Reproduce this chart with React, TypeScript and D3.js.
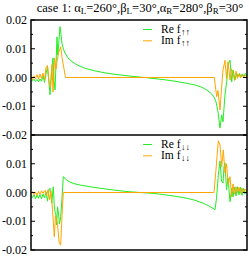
import React from 'react';
import * as d3 from 'd3';

// position along the (unlabelled) horizontal axis, arbitrary units 0..216
const reUp: [number, number][] = [
  [0, -0.0008], [1.5, -0.0012], [3, -0.0006], [4.5, -0.0014], [6, -0.0007], [7.5, -0.0015],
  [9, -0.0005], [10.5, -0.0013], [12, 0.0005], [13.5, -0.0017], [15, 0.0012], [16.5, 0.0037],
  [18, -0.002], [19, -0.006], [20.5, 0.002], [22, 0.0068], [23, -0.001], [24, -0.0043],
  [25, 0.0045], [26, 0.0141], [26.8, 0.0078], [27.8, 0.012], [29, 0.0177], [30, 0.015],
  [31, 0.0118], [32.5, 0.0098], [34, 0.0085], [37, 0.0068], [41, 0.0055], [46, 0.0044],
  [54, 0.0032], [64, 0.0023], [74, 0.0016], [84, 0.0011], [94, 0.0007], [104, 0.0003],
  [114, 0], [124, -0.0004], [134, -0.0008], [144, -0.0013], [154, -0.0019], [164, -0.0026],
  [171, -0.0034], [176, -0.0044], [180, -0.0055], [183, -0.0068], [185, -0.0085], [187, -0.0119],
  [189, -0.0176], [190.7, -0.013], [192, -0.0154], [194, -0.006], [195.7, -0.0015], [197, 0.0043],
  [199, 0.006], [200.7, -0.0015], [202, 0.0026], [204, -0.0009], [205.7, 0.0015], [207, 0.0003],
  [208.5, 0.0014], [210, 0.0002], [211.5, 0.0012], [213, 0.0004], [214.5, 0.0015], [216, 0.0006],
];

const imUp: [number, number][] = [
  [0, 0.0002], [1.5, -0.0008], [3, 0.0006], [4.5, -0.0004], [6, 0.001], [7.5, -0.0006],
  [9, 0.0012], [10.5, -0.0003], [12, 0.0015], [13.5, -0.001], [15, 0.0035], [16.5, 0.0042],
  [18, -0.0015], [19.5, -0.0035], [21, 0.0045], [22, -0.005], [23.5, 0.0068], [25, 0.003],
  [26, 0.0055], [27.5, 0.0085], [29.7, 0.0107], [31, 0.007], [32.5, 0.004], [34.5, 0],
  [183.3, 0], [185.7, -0.0067], [187, -0.0045], [189, -0.0113], [190.5, -0.004], [192, 0.0026],
  [194, 0.006], [195.5, -0.0005], [197, 0.0055], [199, -0.0009], [200.5, 0.003], [202, 0.0015],
  [203.5, -0.001], [205, 0.0022], [206.5, -0.0003], [208, 0.0012], [209.5, -0.0002], [211, 0.001],
  [212.5, -0.0001], [214, 0.0008], [216, 0.0003],
];

const reDown: [number, number][] = [
  [0, -0.001], [1.5, -0.0018], [3, -0.0008], [4.5, -0.0022], [6, -0.0009], [7.5, -0.002],
  [9, -0.0007], [10.5, -0.0022], [12, -0.0005], [13.5, -0.0019], [15, 0.0002], [16.5, -0.003],
  [18, 0.001], [19, 0.0015], [20.7, -0.0037], [22.3, 0.002], [23.5, -0.006], [25, -0.0078],
  [25.7, -0.0113], [26.5, -0.005], [27.3, -0.0067], [28.5, -0.011], [29.7, -0.0084], [31, -0.002],
  [32.3, 0.0055], [34, 0.005], [35.7, 0.0043], [39, 0.0036], [44, 0.003], [49, 0.0026],
  [59, 0.002], [69, 0.0015], [84, 0.0008], [97, 0.0003], [109, 0], [122, -0.0003],
  [134, -0.0008], [146, -0.0014], [156, -0.002], [164, -0.0027], [172, -0.0037], [178, -0.0047],
  [182, -0.0055], [184, -0.006], [185.5, -0.002], [187.3, 0.006], [189, 0.011], [190.5, 0.004],
  [192, 0.0033], [193, 0.009], [194, 0.0103], [195.5, 0.001], [197, 0.005], [199, -0.0032],
  [200.7, 0.0015], [202, -0.0015], [203.5, 0.0018], [205, -0.0012], [206.5, 0.002], [208, -0.0008],
  [209.5, 0.0018], [211, -0.001], [212.5, 0.0015], [214, -0.0005], [216, 0.001],
];

const imDown: [number, number][] = [
  [0, -0.0005], [1.5, 0.0003], [3, -0.0008], [4.5, 0.0002], [6, -0.001], [7.5, 0.0004],
  [9, -0.0006], [10.5, 0.0006], [12, -0.0003], [14, 0.0008], [15.5, -0.0012], [17, 0.001],
  [18.5, -0.0025], [20, 0.0005], [21.5, -0.006], [23.3, -0.0154], [24.5, -0.008], [26.3, -0.0106],
  [28.3, -0.0177], [29.7, -0.0183], [31, -0.008], [32.3, 0], [183, 0], [185, 0.008],
  [187.3, 0.018], [189, 0.0165], [190.7, 0.009], [192.3, 0.0148], [194, 0.0068], [195.5, 0.01],
  [197.3, 0.0026], [199, 0.0055], [200.7, -0.0015], [202, 0.003], [203.5, -0.0005], [205, 0.002],
  [206.5, 0], [208, 0.0018], [209.5, -0.0003], [211, 0.0015], [212.5, 0], [214, 0.0012], [216, 0.0002],
];

const majorTicks = [-0.02, -0.01, 0, 0.01, 0.02];
const minorTicks = [-0.015, -0.005, 0.005, 0.015];
const topLabels = [0.02, 0.01, 0, -0.01, -0.02];
const bottomLabels = [0.01, 0, -0.01, -0.02];

const GREEN = '#22ee22';
const ORANGE = '#ffa500';
const FONT = "'Liberation Serif', 'Times New Roman', serif";

const W = 249;
const H = 256;
const left = 31;
const right = 247;
const top = 20;
const mid = 135;
const bottom = 250;

const fmt = d3.formatLocale({ decimal: '.', thousands: ',', grouping: [3], currency: ['', ''], minus: '-' }).format('.2f');

export default function App() {
  const x = d3.scaleLinear().domain([0, 216]).range([left, right]);
  const yTop = d3.scaleLinear().domain([-0.02, 0.02]).range([mid, top]);
  const yBot = d3.scaleLinear().domain([-0.02, 0.02]).range([bottom, mid]);

  const lineFor = (y: d3.ScaleLinear<number, number>) =>
    d3.line<[number, number]>().x(d => x(d[0])).y(d => y(d[1]));

  const ticks = (y: d3.ScaleLinear<number, number>, key: string) => (
    <g key={key} stroke="#000" strokeWidth={1}>
      {majorTicks.map(t => (
        <g key={t}>
          <line x1={left} x2={left + 4} y1={y(t)} y2={y(t)} />
          <line x1={right - 4} x2={right} y1={y(t)} y2={y(t)} />
        </g>
      ))}
      {minorTicks.map(t => (
        <g key={t}>
          <line x1={left} x2={left + 2} y1={y(t)} y2={y(t)} />
          <line x1={right - 2} x2={right} y1={y(t)} y2={y(t)} />
        </g>
      ))}
    </g>
  );

  const arrowStyle = { fontSize: '9px' };

  const legend = (y0: number, arrow: string) => (
    <g style={{ fontFamily: FONT, fontSize: '11.5px' }}>
      <line x1={143} x2={152} y1={y0} y2={y0} stroke={GREEN} strokeWidth={1} />
      <text x={161} y={y0 + 3}>
        Re f<tspan style={arrowStyle} dx={0.5} dy={2}>{arrow}</tspan>
      </text>
      <line x1={143} x2={152} y1={y0 + 11.3} y2={y0 + 11.3} stroke={ORANGE} strokeWidth={1} />
      <text x={161} y={y0 + 14.3}>
        Im f<tspan style={arrowStyle} dx={0.5} dy={2}>{arrow}</tspan>
      </text>
    </g>
  );

  const sub = { fontSize: '9px' };

  return (
    <svg width={W} height={H} style={{ position: 'absolute', left: 0, top: 0, background: '#fff', fontFamily: FONT }}>
      <defs>
        <clipPath id="clipTop"><rect x={left} y={top} width={right - left} height={mid - top} /></clipPath>
        <clipPath id="clipBot"><rect x={left} y={mid} width={right - left} height={bottom - mid} /></clipPath>
      </defs>

      <text x={140} y={12} style={{ fontSize: '12.5px' }} textAnchor="middle">
        case 1: α<tspan style={sub} dy={2}>L</tspan><tspan dy={-2}>=260°,β</tspan>
        <tspan style={sub} dy={2}>L</tspan><tspan dy={-2}>=30°,α</tspan>
        <tspan style={sub} dy={2}>R</tspan><tspan dy={-2}>=280°,β</tspan>
        <tspan style={sub} dy={2}>R</tspan><tspan dy={-2}>=30°</tspan>
      </text>

      <g clipPath="url(#clipTop)" fill="none" strokeWidth={1}>
        <path d={lineFor(yTop)(reUp) ?? ''} stroke={GREEN} />
        <path d={lineFor(yTop)(imUp) ?? ''} stroke={ORANGE} />
      </g>
      <g clipPath="url(#clipBot)" fill="none" strokeWidth={1}>
        <path d={lineFor(yBot)(reDown) ?? ''} stroke={GREEN} />
        <path d={lineFor(yBot)(imDown) ?? ''} stroke={ORANGE} />
      </g>

      {ticks(yTop, 'tt')}
      {ticks(yBot, 'tb')}

      <rect x={left} y={top} width={right - left} height={bottom - top} fill="none" stroke="#000" strokeWidth={1.5} />
      <line x1={left} x2={right} y1={mid} y2={mid} stroke="#000" strokeWidth={1.5} />

      <g style={{ fontSize: '12px' }} textAnchor="end">
        {topLabels.map(t => (
          <text key={'a' + t} x={27} y={yTop(t)} dy="0.35em">{fmt(t)}</text>
        ))}
        {bottomLabels.map(t => (
          <text key={'b' + t} x={27} y={yBot(t)} dy="0.35em">{fmt(t)}</text>
        ))}
      </g>

      {legend(29.5, '↑↑')}
      {legend(144.5, '↓↓')}
    </svg>
  );
}
